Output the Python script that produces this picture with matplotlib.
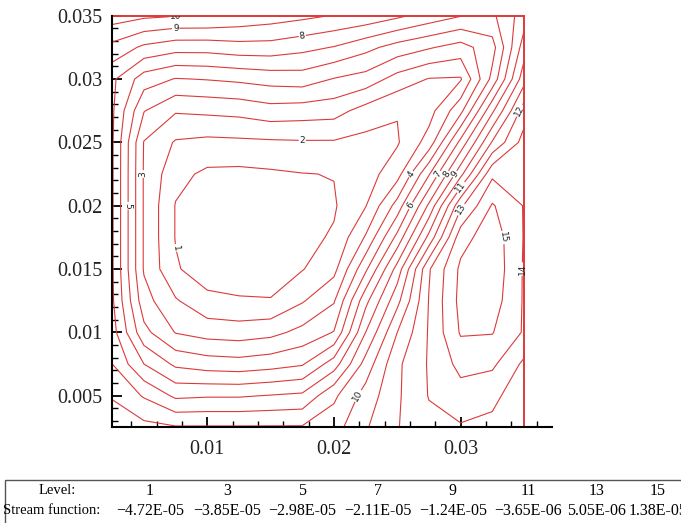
import matplotlib
matplotlib.use('Agg')

import matplotlib.pyplot as plt
from matplotlib.ticker import MultipleLocator, FuncFormatter
from matplotlib.patches import Rectangle
import numpy as np

# grid nodes in mm (x left->right, y top->bottom)
x_mm = [2.5, 5.0, 7.5, 10.0, 12.5, 15.0, 17.5, 20.0, 22.5, 25.0, 27.5, 30.0, 32.5, 35.0]
y_mm = [35.0, 32.5, 30.0, 27.5, 25.0, 22.5, 20.0, 17.5, 15.0, 12.5, 10.0, 7.5, 5.0, 2.5]

# contour level index at each node (rows top->bottom)
level_field = [
    [10.5, 10.2, 10.05, 10.02, 9.75, 9.5, 9.25, 8.95, 8.7, 8.2, 7.6, 7.05, 6.8, 8.5],
    [8.7, 7.8, 7.4, 7.4, 7.6, 7.6, 7.3, 6.95, 6.3, 5.6, 5.1, 4.6, 5.6, 9.5],
    [7.2, 5.5, 4.95, 5.05, 5.2, 5.4, 5.5, 4.95, 4.6, 3.6, 2.95, 2.9, 6.3, 10.6],
    [7.15, 4.05, 3.1, 3.2, 3.3, 3.6, 3.5, 3.4, 2.6, 2.05, 2.6, 4.7, 8.8, 12.5],
    [7.1, 2.95, 1.9, 1.75, 1.8, 1.85, 1.9, 1.9, 1.7, 1.9, 3.4, 7.3, 11.1, 13.4],
    [7.1, 2.9, 1.3, 0.8, 0.75, 0.85, 0.97, 1.03, 1.55, 2.6, 5.9, 9.7, 13.8, 13.7],
    [7.1, 2.9, 0.95, 0.45, 0.35, 0.4, 0.7, 0.9, 1.95, 4.4, 8.2, 12.8, 15.1, 13.95],
    [7.1, 2.9, 0.95, 0.45, 0.35, 0.4, 0.75, 1.1, 3.1, 6.3, 10.3, 14.6, 15.6, 13.95],
    [7.1, 2.9, 1.1, 0.5, 0.45, 0.55, 0.95, 1.7, 4.8, 8.4, 12.9, 15.2, 15.7, 13.9],
    [7.15, 3.4, 2.1, 1.25, 1.1, 1.05, 1.9, 2.9, 6.7, 9.7, 13.05, 15.3, 15.5, 13.9],
    [7.4, 4.3, 2.95, 2.6, 2.5, 2.7, 3.3, 4.05, 8.0, 11.0, 13.1, 15.1, 15.05, 13.9],
    [8.0, 6.0, 4.8, 4.5, 4.4, 4.6, 4.9, 6.5, 9.4, 11.8, 13.1, 14.3, 14.2, 12.8],
    [8.9, 7.9, 6.8, 6.9, 6.9, 7.05, 7.2, 8.8, 10.4, 11.85, 13.05, 13.6, 13.2, 12.5],
    [9.7, 9.3, 9.1, 9.1, 9.1, 9.1, 9.1, 9.6, 10.9, 11.95, 12.7, 12.9, 12.8, 12.3],
]

contour_levels = list(range(1, 16))

table_levels = [1, 3, 5, 7, 9, 11, 13, 15]
table_psi = [-4.72e-05, -3.85e-05, -2.98e-05, -2.11e-05, -1.24e-05, -3.65e-06, 5.05e-06, 1.38e-05]

serif = 'Liberation Serif'
line_red = '#dc3a3a'

x = np.array(x_mm) / 1000.0
y = np.array(y_mm) / 1000.0
Z = np.array(level_field)

fig = plt.figure(figsize=(6.81, 5.23), dpi=100)
ax = fig.add_axes([0.1649, 0.1828, 0.6454, 0.7872])

cs = ax.contour(x, y[::-1], Z[::-1, :], levels=contour_levels,
                colors=line_red, linewidths=0.8)
ax.clabel(cs, fmt='%d', fontsize=6.5, colors='#222222', inline=True, inline_spacing=1)

# domain boundary (top and right)
ax.plot([x.min(), x.max()], [y.max(), y.max()], color=line_red, lw=1.4, clip_on=False)
ax.plot([x.max(), x.max()], [y.min(), y.max()], color=line_red, lw=1.4, clip_on=False)

ax.set_xlim(0.0025, 0.0372)
ax.set_ylim(0.0025, 0.035)

ax.xaxis.set_major_locator(MultipleLocator(0.01))
ax.xaxis.set_minor_locator(MultipleLocator(0.002))
ax.yaxis.set_major_locator(MultipleLocator(0.005))
ax.yaxis.set_minor_locator(MultipleLocator(0.001))
fmt = FuncFormatter(lambda v, p: '%g' % round(v, 6))
ax.xaxis.set_major_formatter(fmt)
ax.yaxis.set_major_formatter(fmt)

ax.tick_params(which='both', direction='in', top=False, right=False)
ax.tick_params(which='major', length=7.5, width=1.3, labelsize=14.5)
ax.tick_params(which='minor', length=4.5, width=1.0)
ax.tick_params(axis='x', pad=9)
ax.tick_params(axis='y', pad=7)
for lab in ax.get_xticklabels() + ax.get_yticklabels():
    lab.set_fontfamily(serif)
    lab.set_color('#222222')

ax.spines['top'].set_visible(False)
ax.spines['right'].set_visible(False)
ax.spines['left'].set_linewidth(1.5)
ax.spines['bottom'].set_linewidth(1.5)

# legend table below the plot
box = Rectangle((5 / 681, -0.1), 1.0, 0.1 + 43 / 523, transform=fig.transFigure,
                fill=False, ec='#555555', lw=1.0, clip_on=False)
fig.add_artist(box)

row1 = 1 - 491 / 523
row2 = 1 - 511 / 523
col_centers = [150, 227, 302, 378, 453, 528, 597, 658]
fig.text(57 / 681, row1, 'Level:', ha='center', va='center', family=serif, fontsize=10.5)
fig.text(52 / 681, row2, 'Stream function:', ha='center', va='center', family=serif, fontsize=10.5)


def psi_str(v):
    s = '%.2E' % v
    if s.startswith('-'):
        s = '\u2212' + s[1:]
    return s


for cx, lev, val in zip(col_centers, table_levels, table_psi):
    fig.text(cx / 681, row1, str(lev), ha='center', va='center', family=serif, fontsize=11.5)
    fig.text(cx / 681, row2, psi_str(val), ha='center', va='center', family=serif, fontsize=11.5)

fig.savefig('out.png', dpi=100)
